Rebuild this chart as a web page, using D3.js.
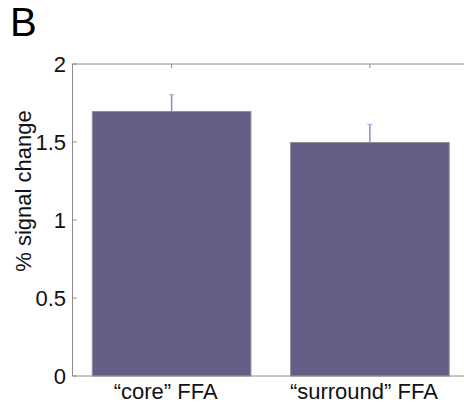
<!DOCTYPE html>
<html>
<head>
<meta charset="utf-8">
<script src="https://cdn.jsdelivr.net/npm/d3@7"></script>
<style>
  body { margin: 0; background: #fff; }
  svg { display: block; font-family: "Liberation Sans", Arial, Helvetica, sans-serif; }
</style>
</head>
<body>
<div id="chart"></div>
<script>
const categories = ["\u201Ccore\u201D FFA", "\u201Csurround\u201D FFA"];
const means = [1.695, 1.497];
const errors = [0.108, 0.116];
const yTicks = [0, 0.5, 1, 1.5, 2];
const yTickLabels = ["0", "0.5", "1", "1.5", "2"];

const W = 464, H = 408;
const margin = { top: 64, left: 72.5, bottom: 32, right: -5 };

const svg = d3.select("#chart").append("svg")
  .attr("width", W)
  .attr("height", H);

const x = d3.scaleBand()
  .domain(categories)
  .range([margin.left, W - margin.right])
  .paddingInner(0.2)
  .paddingOuter(0.1);

const y = d3.scaleLinear()
  .domain([0, 2])
  .range([H - margin.bottom, margin.top]);

const axisColor = "#8c8c8c";

// panel letter
svg.append("text")
  .attr("x", 10)
  .attr("y", 36)
  .attr("font-size", 40)
  .attr("fill", "#000")
  .text("B");

// bars
svg.selectAll(".bar")
  .data(means)
  .enter()
  .append("rect")
  .attr("class", "bar")
  .attr("x", (d, i) => x(categories[i]))
  .attr("y", d => y(d))
  .attr("width", x.bandwidth())
  .attr("height", d => y(0) - y(d))
  .attr("fill", "#625e86")
  .attr("stroke", "#8d8d98")
  .attr("stroke-width", 1);

// error bars (upper only)
const eb = svg.selectAll(".err")
  .data(means)
  .enter()
  .append("g")
  .attr("class", "err");

eb.append("line")
  .attr("x1", (d, i) => x(categories[i]) + x.bandwidth() / 2)
  .attr("x2", (d, i) => x(categories[i]) + x.bandwidth() / 2)
  .attr("y1", d => y(d))
  .attr("y2", (d, i) => y(d + errors[i]))
  .attr("stroke", "#8a88c8")
  .attr("stroke-width", 1.5);

eb.append("line")
  .attr("x1", (d, i) => x(categories[i]) + x.bandwidth() / 2 - 2.5)
  .attr("x2", (d, i) => x(categories[i]) + x.bandwidth() / 2 + 2.5)
  .attr("y1", (d, i) => y(d + errors[i]))
  .attr("y2", (d, i) => y(d + errors[i]))
  .attr("stroke", "#a9a8d8")
  .attr("stroke-width", 1);

// box lines: left, top, bottom
const x0 = margin.left, x1 = W - margin.right;
svg.append("line")
  .attr("x1", x0).attr("x2", x0)
  .attr("y1", y(2)).attr("y2", y(0))
  .attr("stroke", axisColor);
svg.append("line")
  .attr("x1", x0).attr("x2", x1)
  .attr("y1", y(2)).attr("y2", y(2))
  .attr("stroke", axisColor);
svg.append("line")
  .attr("x1", x0).attr("x2", x1)
  .attr("y1", y(0)).attr("y2", y(0))
  .attr("stroke", axisColor);

// y ticks (inward)
svg.selectAll(".ytick")
  .data(yTicks)
  .enter()
  .append("line")
  .attr("x1", x0).attr("x2", x0 + 4)
  .attr("y1", d => y(d)).attr("y2", d => y(d))
  .attr("stroke", axisColor);

// x ticks on top (inward)
svg.selectAll(".xtick")
  .data(categories)
  .enter()
  .append("line")
  .attr("x1", d => x(d) + x.bandwidth() / 2)
  .attr("x2", d => x(d) + x.bandwidth() / 2)
  .attr("y1", y(2)).attr("y2", y(2) + 4)
  .attr("stroke", axisColor);

// y tick labels
svg.selectAll(".ylab")
  .data(yTicks)
  .enter()
  .append("text")
  .attr("x", 66)
  .attr("y", d => y(d))
  .attr("dy", "0.36em")
  .attr("text-anchor", "end")
  .attr("font-size", 22)
  .attr("fill", "#111")
  .text((d, i) => yTickLabels[i]);

// x tick labels
svg.selectAll(".xlab")
  .data(categories)
  .enter()
  .append("text")
  .attr("x", d => x(d) + x.bandwidth() / 2 - 6)
  .attr("y", 399)
  .attr("text-anchor", "middle")
  .attr("font-size", 22)
  .attr("fill", "#111")
  .text(d => d);

// y axis title
svg.append("text")
  .attr("transform", "translate(31,191) rotate(-90)")
  .attr("text-anchor", "middle")
  .attr("font-size", 22)
  .attr("fill", "#111")
  .text("% signal change");
</script>
</body>
</html>
